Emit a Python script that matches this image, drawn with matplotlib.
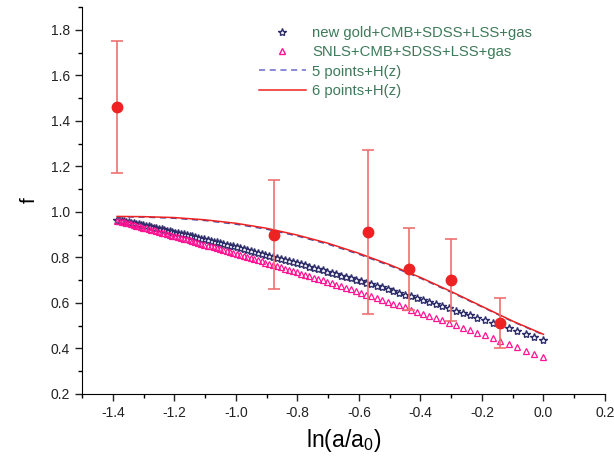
import numpy as np
import matplotlib
matplotlib.use("Agg")
import matplotlib.pyplot as plt
from matplotlib.ticker import MultipleLocator
from matplotlib.lines import Line2D

plt.rcParams['font.family'] = ['Liberation Sans', 'DejaVu Sans']
plt.rcParams['mathtext.fontset'] = 'custom'
plt.rcParams['mathtext.rm'] = 'Liberation Sans'
plt.rcParams['mathtext.it'] = 'Liberation Sans'

# redshift grid of the model points (z = 0 ... 3 in steps of 0.03)
z_grid = np.round(np.arange(0, 3.0001, 0.03), 2)

# f for each model point
f_gold = [0.435, 0.449, 0.463, 0.476, 0.488, 0.501, 0.513, 0.524, 0.535, 0.546,
          0.556, 0.566, 0.576, 0.585, 0.595, 0.604, 0.612, 0.621, 0.629, 0.637,
          0.645, 0.653, 0.660, 0.668, 0.675, 0.682, 0.689, 0.695, 0.702, 0.708,
          0.714, 0.720, 0.726, 0.732, 0.738, 0.743, 0.749, 0.754, 0.760, 0.765,
          0.770, 0.775, 0.780, 0.785, 0.789, 0.794, 0.799, 0.803, 0.807, 0.812,
          0.816, 0.820, 0.824, 0.828, 0.832, 0.836, 0.840, 0.844, 0.848, 0.851,
          0.855, 0.859, 0.862, 0.866, 0.869, 0.872, 0.876, 0.879, 0.882, 0.885,
          0.888, 0.892, 0.895, 0.898, 0.901, 0.904, 0.906, 0.909, 0.912, 0.915,
          0.918, 0.920, 0.923, 0.926, 0.928, 0.931, 0.933, 0.936, 0.938, 0.941,
          0.943, 0.946, 0.948, 0.950, 0.953, 0.955, 0.957, 0.959, 0.962, 0.964,
          0.966]
f_snls = [0.362, 0.377, 0.391, 0.405, 0.419, 0.432, 0.445, 0.457, 0.469, 0.480,
          0.492, 0.502, 0.513, 0.523, 0.533, 0.543, 0.553, 0.562, 0.571, 0.580,
          0.589, 0.597, 0.606, 0.614, 0.622, 0.629, 0.637, 0.644, 0.652, 0.659,
          0.666, 0.673, 0.679, 0.686, 0.692, 0.699, 0.705, 0.711, 0.717, 0.723,
          0.729, 0.735, 0.740, 0.746, 0.751, 0.757, 0.762, 0.767, 0.772, 0.777,
          0.782, 0.787, 0.792, 0.797, 0.801, 0.806, 0.810, 0.815, 0.819, 0.824,
          0.828, 0.832, 0.836, 0.840, 0.844, 0.848, 0.852, 0.856, 0.860, 0.864,
          0.868, 0.871, 0.875, 0.879, 0.882, 0.886, 0.889, 0.893, 0.896, 0.899,
          0.903, 0.906, 0.909, 0.913, 0.916, 0.919, 0.922, 0.925, 0.928, 0.931,
          0.934, 0.937, 0.940, 0.943, 0.946, 0.949, 0.951, 0.954, 0.957, 0.960,
          0.962]

curve_x = [-1.386, -1.3, -1.2, -1.1, -1.0, -0.9, -0.8, -0.7, -0.6, -0.5, -0.4, -0.3, -0.2, -0.1, 0.0]
f_6pts = [0.980, 0.979, 0.975, 0.965, 0.950, 0.928, 0.898, 0.862, 0.818, 0.768, 0.712, 0.650, 0.585, 0.520, 0.462]
f_5pts = [0.978, 0.977, 0.972, 0.962, 0.946, 0.924, 0.894, 0.858, 0.814, 0.764, 0.709, 0.647, 0.583, 0.518, 0.460]

# growth-rate data points
obs_x = [-0.140, -0.300, -0.438, -0.571, -0.875, -1.386]
obs_f = [0.51, 0.70, 0.75, 0.91, 0.90, 1.46]
obs_err = [0.11, 0.18, 0.18, 0.36, 0.24, 0.29]

x_model = -np.log(1 + z_grid)  # ln(a/a0)

fig = plt.figure(figsize=(6.14, 4.65), dpi=100)
ax = fig.add_axes([0.1336, 0.1527, 0.8517, 0.8323])

ax.plot(x_model, f_gold, '*', mfc='white', mec='#2e2e6b', mew=1.0, ms=6, ls='none')
ax.plot(x_model, f_snls, '^', mfc='none', mec='#ff1493', mew=0.9, ms=4.5, ls='none')
ax.plot(curve_x, f_5pts, '--', color='#4a4aa0', lw=1.1, dashes=(4, 3))
ax.plot(curve_x, f_6pts, '-', color='#ee2222', lw=1.1)
ax.errorbar(obs_x, obs_f, yerr=obs_err, fmt='o', color='#ee2222', ms=7.5,
            ecolor='#f07070', elinewidth=1.2, capsize=4, capthick=1.2, zorder=5)

ax.set_xlim(-1.5, 0.2)
ax.set_ylim(0.2, 1.9)
ax.xaxis.set_minor_locator(MultipleLocator(0.1))
ax.yaxis.set_minor_locator(MultipleLocator(0.1))
ax.set_xticks(np.arange(-1.4, 0.21, 0.2))
ax.set_xticklabels(['-1.4', '-1.2', '-1.0', '-0.8', '-0.6', '-0.4', '-0.2', '0.0', '0.2'])
ax.set_yticks(np.arange(0.2, 1.81, 0.2))
ax.set_yticklabels(['0.2', '0.4', '0.6', '0.8', '1.0', '1.2', '1.4', '1.6', '1.8'])
ax.spines['top'].set_visible(False)
ax.spines['right'].set_visible(False)
ax.tick_params(which='major', direction='out', length=5, width=1, labelsize=10, colors='#222222')
ax.tick_params(which='minor', direction='out', length=3, width=1)
ax.set_xlabel('ln(a/a$_{0}$)', fontsize=16.5, labelpad=5)
ax.set_ylabel('f', fontsize=15, labelpad=9)

handles = [
    Line2D([], [], marker='*', mfc='white', mec='#2e2e6b', ms=6, ls='none'),
    Line2D([], [], marker='^', mfc='none', mec='#ff1493', ms=4.5, ls='none'),
    Line2D([], [], ls='--', color='#6a6ad0', lw=1.1, dashes=(4, 3)),
    Line2D([], [], ls='-', color='#ee2222', lw=1.1),
]
labels = ['new gold+CMB+SDSS+LSS+gas', 'SNLS+CMB+SDSS+LSS+gas',
          '5 points+H(z)', '6 points+H(z)']
leg = ax.legend(handles, labels, loc='upper left', bbox_to_anchor=(0.312, 0.985),
                frameon=False, fontsize=10.7, labelcolor='#3f7a5a',
                handlelength=3.2, handletextpad=0.4, labelspacing=0.35)

fig.savefig("out.png", dpi=100)
